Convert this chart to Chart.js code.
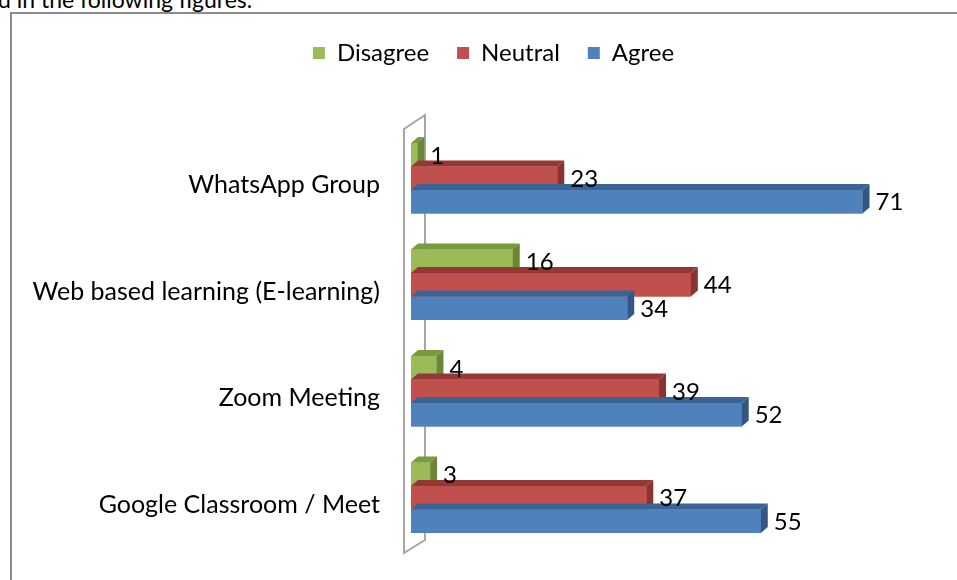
<!DOCTYPE html>
<html>
<head>
<meta charset="utf-8">
<script src="https://cdn.jsdelivr.net/npm/chart.js@4"></script>
<style>
  html, body { margin: 0; padding: 0; background: #fff; overflow: hidden; }
  body { width: 957px; height: 580px; position: relative; font-family: Lato, "Open Sans", sans-serif; }
  #caption { position: absolute; left: -2px; top: -12px; font-size: 23px; line-height: 23px; color: #000; white-space: nowrap; }
  #frame { position: absolute; left: 10px; top: 12px; width: 990px; height: 620px; border: 2px solid #8c8c8c; box-sizing: border-box; }
  #wrap { position: absolute; left: 10px; top: 0; width: 967px; height: 580px; }
</style>
</head>
<body>
<div id="caption">d in the following figures.</div>
<div id="frame"></div>
<div id="wrap"><canvas id="chart" width="967" height="580"></canvas></div>
<script>
const categories = ["WhatsApp Group", "Web based learning (E-learning)", "Zoom Meeting", "Google Classroom / Meet"];
const disagree = [1, 16, 4, 3];
const neutral = [23, 44, 39, 37];
const agree = [71, 34, 52, 55];

const FONT = "Lato, 'Open Sans', sans-serif";
// front / top / side shades for the fake 3D look
const shades = [
  ["#9bbb59", "#7a9a3f", "#6a8736"],
  ["#c0504d", "#953735", "#8a3230"],
  ["#4f81bd", "#3a6494", "#335784"]
];
const DX = 7, DY = 6;

const bars3d = {
  id: "bars3d",
  beforeDatasetsDraw(chart) {
    // side wall behind the category axis
    const { ctx, chartArea: a } = chart;
    ctx.save();
    ctx.strokeStyle = "#a6a6a6";
    ctx.lineWidth = 2;
    ctx.beginPath();
    ctx.moveTo(a.left - 7, a.top + 4);
    ctx.lineTo(a.left + 14, a.top - 10);
    ctx.lineTo(a.left + 14, a.bottom - 11);
    ctx.lineTo(a.left - 7, a.bottom + 2);
    ctx.closePath();
    ctx.stroke();
    ctx.restore();
  },
  afterDatasetsDraw(chart) {
    const ctx = chart.ctx;
    ctx.save();
    const n = chart.data.labels.length;
    const sets = chart.data.datasets;
    for (let i = 0; i < n; i++) {
      sets.forEach((ds, d) => {
        const el = chart.getDatasetMeta(d).data[i];
        const x0 = el.base, x1 = el.x;
        const y0 = el.y - el.height / 2, y1 = el.y + el.height / 2;
        const [front, top, side] = shades[d];
        ctx.fillStyle = front;
        ctx.fillRect(x0, y0, x1 - x0, y1 - y0);
        ctx.fillStyle = top;
        ctx.beginPath();
        ctx.moveTo(x0, y0);
        ctx.lineTo(x0 + DX, y0 - DY);
        ctx.lineTo(x1 + DX, y0 - DY);
        ctx.lineTo(x1, y0);
        ctx.closePath();
        ctx.fill();
        ctx.fillStyle = side;
        ctx.beginPath();
        ctx.moveTo(x1, y0);
        ctx.lineTo(x1 + DX, y0 - DY);
        ctx.lineTo(x1 + DX, y1 - DY);
        ctx.lineTo(x1, y1);
        ctx.closePath();
        ctx.fill();
      });
    }
    // value labels on top of everything
    ctx.fillStyle = "#000";
    ctx.font = "24px " + FONT;
    ctx.textAlign = "left";
    ctx.textBaseline = "middle";
    sets.forEach((ds, d) => {
      chart.getDatasetMeta(d).data.forEach((el, i) => {
        ctx.fillText(String(ds.data[i]), el.x + DX + 6, el.y + 1);
      });
    });
    ctx.restore();
  }
};

new Chart(document.getElementById("chart"), {
  type: "bar",
  data: {
    labels: categories,
    datasets: [
      { label: "Disagree", data: disagree, backgroundColor: shades[0][0] },
      { label: "Neutral", data: neutral, backgroundColor: shades[1][0] },
      { label: "Agree", data: agree, backgroundColor: shades[2][0] }
    ]
  },
  options: {
    indexAxis: "y",
    responsive: false,
    animation: false,
    layout: { padding: { top: 13, right: 0, bottom: 29, left: 0 } },
    datasets: { bar: { categoryPercentage: 0.66, barPercentage: 1.0 } },
    scales: {
      x: {
        position: "top",
        min: 0, max: 89,
        grid: { display: false },
        border: { display: false },
        ticks: { display: false },
        afterFit: s => { s.height = 50; }
      },
      y: {
        grid: { display: false },
        border: { display: false },
        ticks: { color: "#000", padding: 23, labelOffset: 7, font: { family: FONT, size: 25 } },
        afterFit: s => { s.width = 401; s.paddingTop = 0; s.paddingBottom = 0; }
      }
    },
    plugins: {
      legend: {
        position: "top",
        labels: {
          color: "#000",
          boxWidth: 12, boxHeight: 12,
          padding: 28,
          font: { family: FONT, size: 24 }
        }
      },
      tooltip: { enabled: false }
    }
  },
  plugins: [bars3d]
});
</script>
</body>
</html>
